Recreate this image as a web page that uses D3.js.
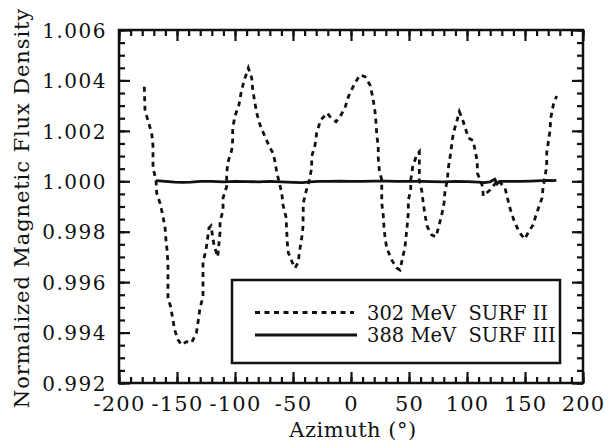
<!DOCTYPE html>
<html>
<head>
<meta charset="utf-8">
<script src="https://cdn.jsdelivr.net/npm/d3@7"></script>
<style>
  body { margin: 0; background: #fff; }
  text { font-family: "DejaVu Serif", serif; fill: #111; }
</style>
</head>
<body>
<svg id="chart" width="608" height="441"></svg>
<script>
// 302 MeV SURF II (dashed)
var azimuth302 = [-178.2, -177.6, -174.7, -171.8, -170.7, -170.7, -168.1, -167.5, -164.7, -162.3,
    -160.3, -159.5, -158.6, -157.8, -157.8, -155.4, -153.5, -152.0, -149.1, -146.2,
    -141.9, -137.6, -133.3, -131.6, -130.2, -127.6, -127.6, -125.0, -122.4, -120.7,
    -118.1, -114.9, -112.9, -112.9, -110.3, -110.3, -107.2, -107.2, -106.0, -102.8,
    -102.0, -102.0, -100.0, -96.6, -94.8, -92.2, -89.0, -88.5, -85.6, -84.7,
    -82.8, -81.3, -78.4, -74.1, -69.8, -67.2, -65.5, -64.0, -62.0, -59.7,
    -58.6, -56.0, -54.9, -54.0, -49.7, -48.3, -45.4, -44.6, -42.5, -41.4,
    -41.1, -38.8, -35.9, -33.9, -33.9, -31.0, -29.6, -26.1, -20.4, -18.1,
    -12.9, -9.5, -5.2, -2.3, 3.4, 7.8, 12.1, 16.4, 18.7, 20.7,
    21.6, 22.2, 23.5, 23.5, 24.4, 26.5, 26.5, 27.8, 28.4, 29.3,
    30.8, 35.1, 39.4, 42.2, 46.6, 48.5, 49.4, 49.4, 51.5, 51.5,
    53.2, 56.6, 58.9, 58.9, 58.9, 60.9, 62.3, 63.8, 65.8, 69.6,
    73.3, 75.3, 78.2, 80.2, 81.0, 83.0, 83.9, 85.3, 86.8, 88.2,
    91.1, 93.4, 96.3, 99.1, 101.1, 105.4, 106.9, 108.9, 108.9, 113.5,
    114.0, 120.0, 126.7, 132.8, 137.0, 140.3, 144.8, 149.7, 152.6, 156.9,
    159.5, 164.7, 165.5, 167.2, 168.7, 168.7, 170.1, 171.6, 172.2, 174.4, 177.3];
var flux302 = [1.00375, 1.00283, 1.00235, 1.00191, 1.00140, 1.00053, 1.00005, 0.99954, 0.99914, 0.99866,
    0.99815, 0.99767, 0.99728, 0.99676, 0.99537, 0.99501, 0.99450, 0.99410, 0.99371, 0.99351,
    0.99364, 0.99359, 0.99398, 0.99450, 0.99497, 0.99541, 0.99680, 0.99727, 0.99815, 0.99823,
    0.99747, 0.99700, 0.99799, 0.99839, 0.99886, 0.99934, 0.99979, 1.00032, 1.00077, 1.00124,
    1.00164, 1.00211, 1.00259, 1.00303, 1.00350, 1.00399, 1.00441, 1.00449, 1.00410, 1.00362,
    1.00310, 1.00271, 1.00223, 1.00176, 1.00132, 1.00112, 1.00077, 1.00037, 0.99997, 0.99954,
    0.99906, 0.99858, 0.99755, 0.99716, 0.99668, 0.99656, 0.99680, 0.99716, 0.99775, 0.99819,
    0.99914, 0.99959, 1.00005, 1.00053, 1.00098, 1.00144, 1.00191, 1.00243, 1.00271, 1.00256,
    1.00236, 1.00256, 1.00291, 1.00335, 1.00390, 1.00422, 1.00415, 1.00382, 1.00335, 1.00276,
    1.00231, 1.00184, 1.00137, 1.00092, 1.00045, 1.00005, 0.99914, 0.99866, 0.99820, 0.99780,
    0.99735, 0.99688, 0.99656, 0.99648, 0.99741, 0.99827, 0.99874, 0.99926, 0.99965, 1.00005,
    1.00058, 1.00104, 1.00117, 1.00053, 1.00005, 0.99965, 0.99914, 0.99866, 0.99820, 0.99787,
    0.99780, 0.99815, 0.99866, 0.99914, 0.99959, 1.00005, 1.00053, 1.00092, 1.00144, 1.00191,
    1.00236, 1.00276, 1.00243, 1.00203, 1.00172, 1.00161, 1.00124, 1.00078, 1.00033, 0.99979,
    0.99942, 0.99966, 1.00005, 0.99973, 0.99894, 0.99847, 0.99800, 0.99771, 0.99795, 0.99827,
    0.99866, 0.99934, 0.99973, 1.00017, 1.00060, 1.00112, 1.00156, 1.00203, 1.00251, 1.00303, 1.00338];

// 388 MeV SURF III (solid)
var azimuth388 = [-168, -160, -152, -145, -138, -130, -120, -110, -100, -90, -80, -70, -60, -50,
    -42, -35, -28, -20, -10, 0, 10, 20, 30, 40, 50, 60, 70, 80, 90, 100, 110, 115, 120,
    124, 126, 128, 135, 145, 155, 165, 170, 175, 177];
var flux388 = [1.00003, 1.00000, 0.99997, 0.99996, 0.99997, 1.00000, 1.00000, 0.99998, 1.00000,
    0.99999, 0.99998, 1.00000, 0.99998, 0.99996, 0.99995, 0.99998, 1.00000, 1.00000, 1.00001,
    1.00000, 1.00000, 1.00001, 1.00001, 1.00000, 1.00000, 1.00000, 0.99999, 0.99998, 1.00000,
    0.99999, 0.99997, 0.99995, 0.99998, 1.00008, 0.99990, 1.00000, 1.00000, 1.00000, 1.00001,
    1.00003, 1.00004, 1.00003, 1.00005];

var xMajorTicks = [-200, -150, -100, -50, 0, 50, 100, 150, 200];
var yMajorTicks = [0.992, 0.994, 0.996, 0.998, 1.000, 1.002, 1.004, 1.006];
var legendLabels = ["302 MeV  SURF II", "388 MeV  SURF III"];

var svg = d3.select("#chart"),
    margin = { top: 30, right: 25, bottom: 58, left: 119 },
    width = +svg.attr("width") - margin.left - margin.right,
    height = +svg.attr("height") - margin.top - margin.bottom,
    g = svg.append("g").attr("transform", "translate(" + margin.left + "," + margin.top + ")");

var x = d3.scaleLinear().domain([-200, 200]).range([0, width]);
var y = d3.scaleLinear().domain([0.992, 1.006]).range([height, 0]);

var xMinor = d3.range(-200, 201, 10);
var yMinor = d3.range(0, 29).map(function (i) { return 0.992 + i * 0.0005; });

var majorLen = 11, minorLen = 6;

function drawAxis(axisFn, scale, ticks, len, transform, fmt) {
    var a = g.append("g")
        .attr("transform", transform)
        .call(axisFn(scale).tickValues(ticks).tickSize(-len).tickPadding(len + 12)
            .tickFormat(fmt || ""));
    a.select(".domain").remove();
    a.selectAll(".tick line").attr("stroke", "#111").attr("stroke-width", 2.2);
    return a;
}

// minor ticks on all four sides
drawAxis(d3.axisBottom, x, xMinor, minorLen, "translate(0," + height + ")");
drawAxis(d3.axisTop, x, xMinor, minorLen, "translate(0,0)");
drawAxis(d3.axisLeft, y, yMinor, minorLen, "translate(0,0)");
drawAxis(d3.axisRight, y, yMinor, minorLen, "translate(" + width + ",0)");

// major ticks with labels (plain hyphen for negatives, as in the original)
var xAx = drawAxis(d3.axisBottom, x, xMajorTicks, majorLen, "translate(0," + height + ")",
    function (d) { return String(d); });
xAx.selectAll("text").attr("dy", "0").attr("y", 28)
    .style("font-size", "21px").style("letter-spacing", "1.2px");
drawAxis(d3.axisTop, x, xMajorTicks, majorLen, "translate(0,0)");
var yAx = drawAxis(d3.axisLeft, y, yMajorTicks, majorLen, "translate(0,0)", d3.format(".3f"));
yAx.selectAll("text").attr("x", -12).attr("dy", "0.36em")
    .style("font-size", "20px").style("letter-spacing", "1.5px");
drawAxis(d3.axisRight, y, yMajorTicks, majorLen, "translate(" + width + ",0)");

// frame
g.append("rect")
    .attr("width", width).attr("height", height)
    .attr("fill", "none").attr("stroke", "#111").attr("stroke-width", 2.5);

var line = d3.line()
    .x(function (d) { return x(d[0]); })
    .y(function (d) { return y(d[1]); });

var series388 = azimuth388.map(function (a, i) { return [a, flux388[i]]; });
var series302 = azimuth302.map(function (a, i) { return [a, flux302[i]]; });

g.append("path")
    .datum(series388)
    .attr("d", line)
    .attr("fill", "none").attr("stroke", "#111").attr("stroke-width", 2.8);

g.append("path")
    .datum(series302)
    .attr("d", line)
    .attr("fill", "none").attr("stroke", "#111").attr("stroke-width", 2.8)
    .attr("stroke-dasharray", "5,4.5");

// legend
var lg = g.append("g").attr("transform", "translate(" + (232 - margin.left) + "," + (280 - margin.top) + ")");
lg.append("rect")
    .attr("width", 328).attr("height", 83)
    .attr("fill", "#fff").attr("stroke", "#111").attr("stroke-width", 2.5);
[0, 1].forEach(function (i) {
    var yy = i === 0 ? 32.5 : 55;
    lg.append("line")
        .attr("x1", 23).attr("x2", i === 0 ? 122 : 125)
        .attr("y1", yy).attr("y2", yy)
        .attr("stroke", "#111").attr("stroke-width", 2.8)
        .attr("stroke-dasharray", i === 0 ? "5,4.5" : null);
    lg.append("text")
        .attr("x", 135).attr("y", yy).attr("dy", "0.36em")
        .style("font-size", "19.5px").style("white-space", "pre")
        .text(legendLabels[i]);
});

// axis titles
svg.append("text")
    .attr("x", 353).attr("y", 437)
    .attr("text-anchor", "middle")
    .style("font-size", "21px").style("letter-spacing", "0.5px")
    .text("Azimuth (°)");

svg.append("text")
    .attr("transform", "translate(29,208) rotate(-90)")
    .attr("text-anchor", "middle")
    .style("font-size", "21px").style("letter-spacing", "0.9px")
    .text("Normalized Magnetic Flux Density");
</script>
</body>
</html>
